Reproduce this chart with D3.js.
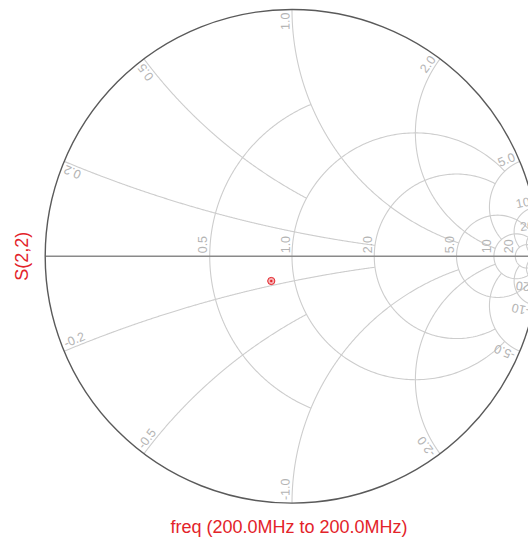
<!DOCTYPE html>
<html>
<head>
<meta charset="utf-8">
<script src="https://cdn.jsdelivr.net/npm/d3@7"></script>
<style>
    body { margin: 0; background: #fff; }
    svg { display: block; }
</style>
</head>
<body>
<svg class="smithChart"></svg>
<script>
// grid values (normalised impedance) and how far each line runs
const resistanceValues = [0.5, 1, 2, 5, 10, 20];
const resistanceLimits = [1, 5, 5, Infinity, Infinity, Infinity];   // max |x| on each r circle
const resistanceLabels = ["0.5", "1.0", "2.0", "5.0", "10", "20"];

const reactanceValues = [0.2, 0.5, 1, 2, 5, 10, 20];
const reactanceLimits = [2, 1, 5, 10, 10, 20, Infinity];            // max r on each x arc
const reactanceLabels = ["0.2", "0.5", "1.0", "2.0", "5.0", "10", "20"];

// S(2,2) trace (reflection coefficient, real / imag)
const s22Re = [-0.084];
const s22Im = [-0.100];

const traceName = "S(2,2)";
const sweepLabel = "freq (200.0MHz to 200.0MHz)";

document.addEventListener('DOMContentLoaded', function(){
    drawSmith();
});

function gamma(r, x) {
    // z = r + jx  ->  (z - 1) / (z + 1)
    const a = r - 1, c = r + 1;
    const den = c * c + x * x;
    return [(a * c + x * x) / den, (x * c - a * x) / den];
}

function drawSmith() {
    const width = 528, height = 542;
    const cx = 292, cy = 256.3, R = 246.8;
    const font = "'Liberation Sans', Arial, sans-serif";
    const red = "#e3232a";

    const svg = d3.select(".smithChart")
        .attr("width", width)
        .attr("height", height);

    const xs = d3.scaleLinear().domain([-1, 1]).range([cx - R, cx + R]);
    const ys = d3.scaleLinear().domain([-1, 1]).range([cy + R, cy - R]);

    const line = d3.line()
        .x(d => xs(d[0]))
        .y(d => ys(d[1]));

    const grid = svg.append("g").attr("class", "grid");
    const N = 400;

    // resistance circles
    resistanceValues.forEach((r, i) => {
        const tMax = Math.min(Math.atan(resistanceLimits[i]), 1.5706);
        const pts = d3.range(N + 1).map(k => {
            const t = -tMax + 2 * tMax * k / N;
            return gamma(r, Math.tan(t));
        });
        grid.append("path")
            .attr("d", line(pts))
            .attr("fill", "none")
            .attr("stroke", "#cdcdcd")
            .attr("stroke-width", 1.1);
    });

    // reactance arcs
    reactanceValues.forEach((x, i) => {
        const tMax = Math.min(Math.atan(reactanceLimits[i]), 1.5706);
        [1, -1].forEach(sign => {
            const pts = d3.range(N + 1).map(k => gamma(Math.tan(tMax * k / N), sign * x));
            grid.append("path")
                .attr("d", line(pts))
                .attr("fill", "none")
                .attr("stroke", "#cdcdcd")
                .attr("stroke-width", 1.1);
        });
    });

    // real axis
    svg.append("line")
        .attr("x1", xs(-1))
        .attr("x2", xs(1))
        .attr("y1", ys(0))
        .attr("y2", ys(0))
        .attr("stroke", "#8a8a8a")
        .attr("stroke-width", 1.6);

    // outer |gamma| = 1 circle
    svg.append("circle")
        .attr("cx", xs(0))
        .attr("cy", ys(0))
        .attr("r", xs(1) - xs(0))
        .attr("fill", "none")
        .attr("stroke", "#5a5a5a")
        .attr("stroke-width", 1.4);

    // resistance labels along the real axis
    const labels = svg.append("g")
        .style("font-family", font)
        .style("font-size", "12.5px")
        .style("fill", "#b4b4b4");

    resistanceValues.forEach((r, i) => {
        const g = gamma(r, 0);
        labels.append("text")
            .attr("transform", `translate(${xs(g[0]) - 2.5},${ys(0) - 3}) rotate(-90)`)
            .attr("text-anchor", "start")
            .text(resistanceLabels[i]);
    });

    // reactance labels at the rim
    reactanceValues.forEach((x, i) => {
        [1, -1].forEach(sign => {
            const p = gamma(0, sign * x);
            const q = gamma(0.01, sign * x);
            const px = xs(p[0]), py = ys(p[1]);
            const ang = Math.atan2(ys(q[1]) - py, xs(q[0]) - px) * 180 / Math.PI;
            const upper = sign > 0;
            labels.append("text")
                .attr("transform", `translate(${px},${py}) rotate(${upper ? ang + 180 : ang})`)
                .attr("x", upper ? -3 : 3)
                .attr("y", -2.5)
                .attr("text-anchor", upper ? "end" : "start")
                .text(upper ? reactanceLabels[i] : "-" + reactanceLabels[i]);
        });
    });

    // S(2,2) marker
    const marks = svg.selectAll(".pt")
        .data(s22Re.map((re, i) => [re, s22Im[i]]))
        .enter().append("g")
        .attr("class", "pt")
        .attr("transform", d => `translate(${xs(d[0])},${ys(d[1])})`);

    marks.append("circle")
        .attr("r", 3.6)
        .attr("fill", "#f7b5b7")
        .attr("stroke", red)
        .attr("stroke-width", 1);

    marks.append("circle")
        .attr("r", 1.2)
        .attr("fill", red);

    // trace name (left) and sweep label (bottom)
    svg.append("text")
        .attr("transform", `translate(28,${ys(0)}) rotate(-90)`)
        .attr("text-anchor", "middle")
        .style("font-family", font)
        .style("font-size", "18px")
        .style("fill", red)
        .text(traceName);

    svg.append("text")
        .attr("x", xs(0) - 3)
        .attr("y", 533)
        .attr("text-anchor", "middle")
        .style("font-family", font)
        .style("font-size", "18px")
        .style("fill", red)
        .text(sweepLabel);
}
</script>
</body>
</html>
